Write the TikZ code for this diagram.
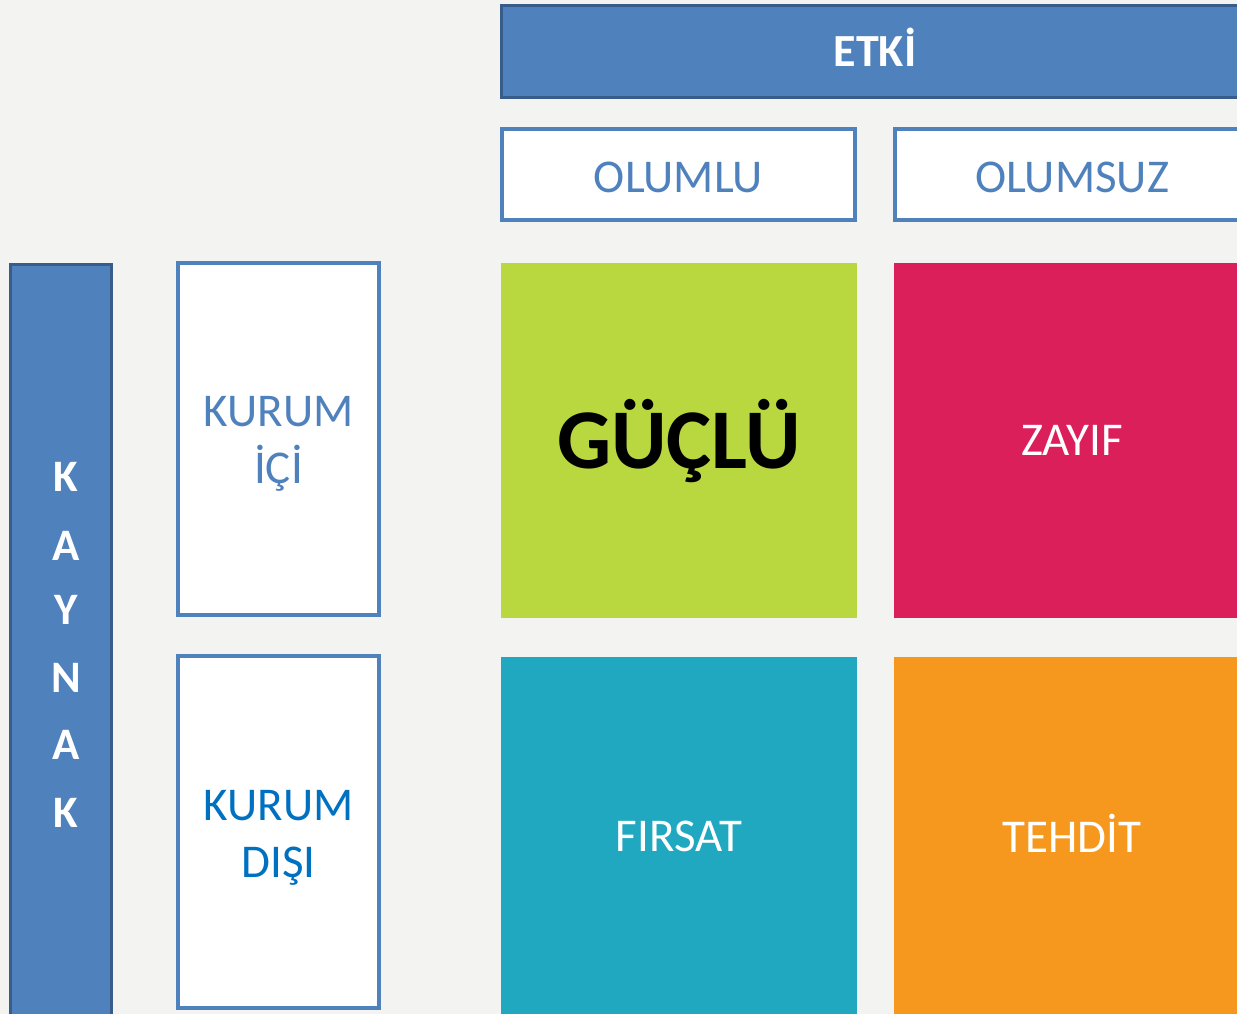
\documentclass[tikz,border=0pt]{standalone}
\usepackage{fontspec}
\setmainfont{Carlito}
\definecolor{bgc}{RGB}{243,243,241}
\definecolor{hdrfill}{RGB}{79,129,189}
\definecolor{hdrdraw}{RGB}{56,93,138}
\definecolor{lblue}{RGB}{79,129,189}
\definecolor{dblue}{RGB}{0,112,192}
\definecolor{cgreen}{RGB}{185,215,62}
\definecolor{cred}{RGB}{219,31,91}
\definecolor{cteal}{RGB}{31,168,192}
\definecolor{corange}{RGB}{247,152,30}
\tikzset{
  hdrbox/.style={rectangle, fill=hdrfill, draw=hdrdraw, line width=3pt, inner sep=0pt},
  wbox/.style={rectangle, fill=white, draw=lblue, line width=4pt, inner sep=0pt},
  cbox/.style={rectangle, inner sep=0pt, minimum width=356pt, minimum height=355pt},
  lbl/.style={anchor=base, inner sep=0pt, font=\fontsize{47}{56}\selectfont},
  blbl/.style={anchor=base, inner sep=0pt, text=white, font=\fontsize{46}{56}\selectfont\bfseries}
}
\begin{document}
\begin{tikzpicture}[x=1pt,y=-1pt]
\useasboundingbox (0,0) rectangle (1237,1014);
\clip (0,0) rectangle (1237,1014);
\fill[bgc] (0,0) rectangle (1237,1014);
% header
\node[hdrbox, minimum width=747pt, minimum height=92pt] (etki) at (875,51.5) {};
\node[blbl] (etkit) at (875,67) {ETKİ};
\node[wbox, minimum width=353pt, minimum height=91pt] (olumlu) at (678.5,174.5) {};
\node[lbl, text=lblue] (olumlut) at (678.5,192) {OLUMLU};
\node[wbox, minimum width=354pt, minimum height=91pt] (olumsuz) at (1072,174.5) {};
\node[lbl, text=lblue] (olumsuzt) at (1072,192) {OLUMSUZ};
% left
\node[hdrbox, minimum width=101pt, minimum height=765pt] (kaynak) at (61,646.5) {};
\node[blbl, font=\fontsize{45}{54}\selectfont\bfseries] (k1) at (66,491) {K};
\node[blbl, font=\fontsize{45}{54}\selectfont\bfseries] (a1) at (66,560) {A};
\node[blbl, font=\fontsize{45}{54}\selectfont\bfseries] (y1) at (66,624) {Y};
\node[blbl, font=\fontsize{45}{54}\selectfont\bfseries] (n1) at (66,692) {N};
\node[blbl, font=\fontsize{45}{54}\selectfont\bfseries] (a2) at (66,759) {A};
\node[blbl, font=\fontsize{45}{54}\selectfont\bfseries] (k2) at (66,827) {K};
\node[wbox, minimum width=201pt, minimum height=352pt] (ici) at (278.5,439) {};
\node[lbl, text=lblue] (ici1) at (278.5,426) {KURUM};
\node[lbl, text=lblue] (ici2) at (278.5,483) {İÇİ};
\node[wbox, minimum width=201pt, minimum height=352pt] (disi) at (278.5,832) {};
\node[lbl, text=dblue] (disi1) at (278.5,820) {KURUM};
\node[lbl, text=dblue] (disi2) at (278.5,877) {DIŞI};
% quadrants
\node[cbox, fill=cgreen] (guclu) at (679,440.5) {};
\node[lbl, text=black, font=\fontsize{85}{90}\selectfont\bfseries] (gucluT) at (679,468) {GÜÇLÜ};
\node[cbox, fill=cred] (zayif) at (1072,440.5) {};
\node[lbl, text=white] (zayifT) at (1072,455) {ZAYIF};
\node[cbox, fill=cteal, minimum height=357pt] (firsat) at (679,835.5) {};
\node[lbl, text=white] (firsatT) at (679,851) {FIRSAT};
\node[cbox, fill=corange, minimum height=357pt] (tehdit) at (1072,835.5) {};
\node[lbl, text=white] (tehditT) at (1072,852) {TEHDİT};
\end{tikzpicture}
\end{document}
